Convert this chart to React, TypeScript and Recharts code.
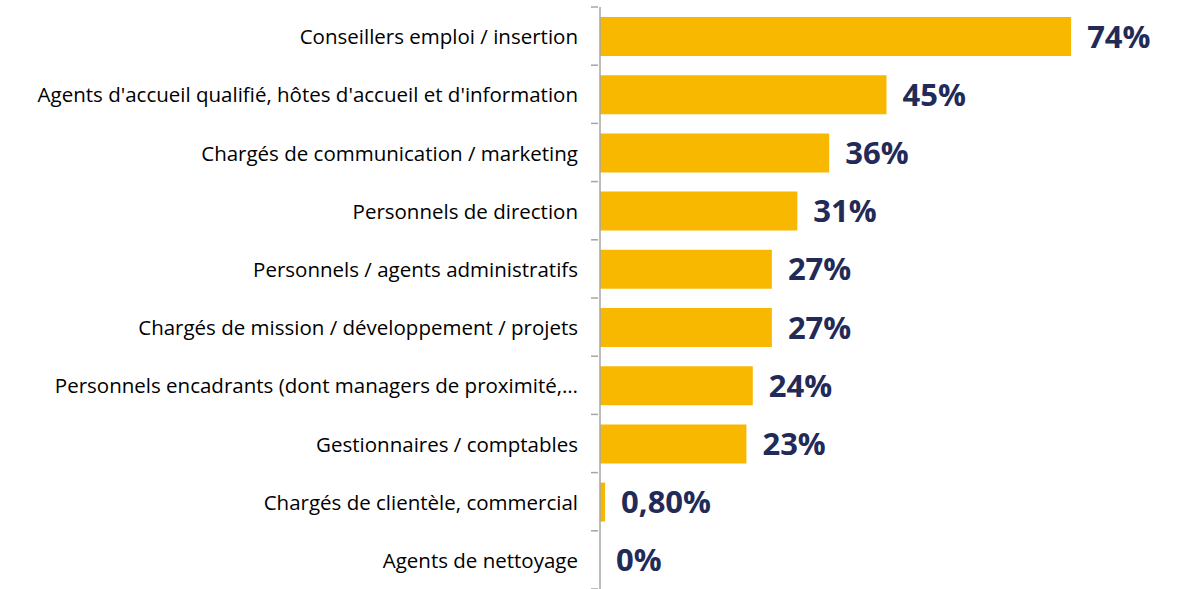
import React from 'react';
import { BarChart, Bar, XAxis, YAxis, LabelList } from 'recharts';

const categories = [
  'Conseillers emploi / insertion',
  "Agents d'accueil qualifié, hôtes d'accueil et d'information",
  'Chargés de communication / marketing',
  'Personnels de direction',
  'Personnels / agents administratifs',
  'Chargés de mission / développement / projets',
  'Personnels encadrants (dont managers de proximité,…',
  'Gestionnaires / comptables',
  'Chargés de clientèle, commercial',
  'Agents de nettoyage',
];
const values = [74, 45, 36, 31, 27, 27, 24, 23, 0.8, 0];

const data = categories.map((c, i) => ({ name: c, value: values[i] }));

const WIDTH = 1183;
const HEIGHT = 589;
const MARGIN = { top: 7, right: 10, bottom: 0, left: 0 };
const BAND = (HEIGHT - MARGIN.top - MARGIN.bottom) / categories.length;
const AXIS_COLOR = '#A6A6A6';

const fmt = (v: any) => {
  const n = Number(v);
  if (Number.isInteger(n)) return `${n}%`;
  return `${n.toFixed(2).replace('.', ',')}%`;
};

const CatTick = (props: any) => {
  const { x, y, payload, index } = props;
  const top = y - BAND / 2;
  return (
    <g>
      <line x1={x} x2={x + 7} y1={top} y2={top} stroke={AXIS_COLOR} strokeWidth={1.5} />
      {index === categories.length - 1 ? (
        <line x1={x} x2={x + 7} y1={top + BAND} y2={top + BAND} stroke={AXIS_COLOR} strokeWidth={1.5} />
      ) : null}
      <text
        x={x - 13}
        y={y}
        textAnchor="end"
        dominantBaseline="central"
        fill="#000"
        fontFamily="'Open Sans', sans-serif"
        fontSize={20.5}
      >
        {payload.value}
      </text>
    </g>
  );
};

export default function App() {
  return (
    <div style={{ position: 'absolute', left: 0, top: 0, background: '#fff' }}>
      <BarChart width={WIDTH} height={HEIGHT} data={data} layout="vertical" margin={MARGIN}>
        <XAxis type="number" domain={[0, 90]} hide />
        <YAxis
          type="category"
          dataKey="name"
          width={600}
          axisLine={{ stroke: AXIS_COLOR, strokeWidth: 1.5 }}
          tickLine={false}
          tickSize={7}
          tick={<CatTick />}
          interval={0}
        />
        <Bar dataKey="value" fill="#F9B800" barSize={39} minPointSize={0.01} isAnimationActive={false}>
          <LabelList
            dataKey="value"
            position="right"
            offset={16}
            formatter={fmt}
            fill="#222A58"
            fontFamily="'Open Sans', sans-serif"
            fontWeight={700}
            fontSize={31}
          />
        </Bar>
      </BarChart>
    </div>
  );
}
